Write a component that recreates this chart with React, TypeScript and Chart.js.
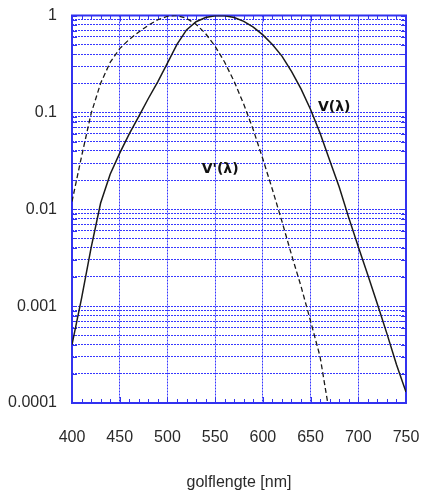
import React, { useEffect, useRef } from 'react';
import { Chart, registerables } from 'chart.js';

Chart.register(...registerables);

// Photopic V(λ), solid line
const photopicWavelengths = [400, 410, 420, 430, 440, 450, 460, 470, 480, 490, 500, 510, 520, 530, 540, 550, 555, 560, 570, 580, 590, 600, 610, 620, 630, 640, 650, 660, 670, 680, 690, 700, 710, 720, 730, 740, 750];
const photopicValues = [0.0004, 0.0012, 0.004, 0.0116, 0.023, 0.038, 0.06, 0.091, 0.139, 0.208, 0.323, 0.503, 0.71, 0.862, 0.954, 0.995, 1.0, 0.995, 0.952, 0.87, 0.757, 0.631, 0.503, 0.381, 0.265, 0.175, 0.107, 0.061, 0.032, 0.017, 0.0082, 0.0041, 0.0021, 0.00105, 0.00052, 0.00025, 0.00013];

// Scotopic V'(λ), dashed line
const scotopicWavelengths = [400, 410, 420, 430, 440, 450, 460, 470, 480, 490, 500, 507, 510, 520, 530, 540, 550, 560, 570, 580, 590, 600, 610, 620, 630, 640, 650, 660, 668];
const scotopicValues = [0.012, 0.035, 0.097, 0.2, 0.328, 0.455, 0.567, 0.676, 0.793, 0.904, 0.982, 1.0, 0.997, 0.935, 0.811, 0.65, 0.481, 0.329, 0.208, 0.121, 0.066, 0.033, 0.016, 0.0075, 0.0034, 0.0016, 0.0007, 0.0003, 0.0001];

const xTickValues = [400, 450, 500, 550, 600, 650, 700, 750];
const xMinorStep = 10;
const yDecades = [0.0001, 0.001, 0.01, 0.1, 1];
const yTickLabels = ['0.0001', '0.001', '0.01', '0.1', '1'];
const yMinorMultipliers = [2, 3, 4, 5, 6, 7, 8, 9];
const xAxisTitle = 'golflengte [nm]';

const curveLabels = ['V(λ)', "V'(λ)"];
const curveLabelWavelengths = [657.8, 536];
const curveLabelValues = [0.114, 0.0256];

const FONT = "'Liberation Sans', Arial, sans-serif";
const GRID_BLUE = 'rgb(55,55,255)';
const FRAME_BLUE = '#3232f0';
const TEXT = '#2a2a2a';

export default function App() {
  const ref = useRef<HTMLCanvasElement>(null);

  useEffect(() => {
    const canvas = ref.current;
    if (!canvas) return;

    const yGridValues: number[] = [];
    yDecades.forEach((d, i) => {
      yGridValues.push(d);
      if (i < yDecades.length - 1) yMinorMultipliers.forEach((m) => yGridValues.push(d * m));
    });
    yGridValues.sort((a, b) => a - b);

    const framePlugin = {
      id: 'frameTicks',
      beforeDatasetsDraw(chart: any) {
        const { ctx, chartArea: a, scales } = chart;
        const xs = scales.x;
        const ys = scales.y;
        ctx.save();
        ctx.setLineDash([]);
        ctx.strokeStyle = FRAME_BLUE;
        ctx.lineWidth = 1;
        ctx.beginPath();
        const xMin = xTickValues[0];
        const xMax = xTickValues[xTickValues.length - 1];
        for (let v = xMin; v <= xMax; v += xMinorStep) {
          const px = Math.round(xs.getPixelForValue(v)) + 0.5;
          const len = v % 50 === 0 ? 6 : 4;
          ctx.moveTo(px, a.bottom);
          ctx.lineTo(px, a.bottom - len);
          ctx.moveTo(px, a.top);
          ctx.lineTo(px, a.top + len);
        }
        yGridValues.forEach((v) => {
          const py = Math.round(ys.getPixelForValue(v)) + 0.5;
          ctx.moveTo(a.left, py);
          ctx.lineTo(a.left + 5, py);
          ctx.moveTo(a.right, py);
          ctx.lineTo(a.right - 5, py);
        });
        ctx.stroke();
        ctx.lineWidth = 2;
        ctx.strokeRect(a.left, a.top, a.right - a.left, a.bottom - a.top);
        ctx.restore();
      },
      afterDatasetsDraw(chart: any) {
        const { ctx, scales } = chart;
        ctx.save();
        ctx.fillStyle = '#111';
        ctx.font = "bold 14px 'DejaVu Sans', sans-serif";
        ctx.textAlign = 'left';
        ctx.textBaseline = 'middle';
        curveLabels.forEach((t, i) => {
          const px = scales.x.getPixelForValue(curveLabelWavelengths[i]);
          const py = scales.y.getPixelForValue(curveLabelValues[i]);
          ctx.fillText(t, px, py);
        });
        ctx.restore();
      },
    };

    const chart = new Chart(canvas, {
      type: 'line',
      data: {
        datasets: [
          {
            label: curveLabels[0],
            data: photopicWavelengths.map((x, i) => ({ x, y: photopicValues[i] })),
            borderColor: '#1a1a1a',
            borderWidth: 1.5,
            pointRadius: 0,
            tension: 0,
          },
          {
            label: curveLabels[1],
            data: scotopicWavelengths.map((x, i) => ({ x, y: scotopicValues[i] })),
            borderColor: '#1a1a1a',
            borderWidth: 1.3,
            borderDash: [5, 3],
            pointRadius: 0,
            tension: 0,
          },
        ],
      },
      options: {
        responsive: false,
        animation: false,
        layout: { padding: { top: 15.5, right: 15, left: 0, bottom: 0 } },
        plugins: { legend: { display: false }, tooltip: { enabled: false } },
        scales: {
          x: {
            type: 'linear',
            min: 400,
            max: 750,
            afterBuildTicks: (s: any) => {
              s.ticks = xTickValues.map((v) => ({ value: v }));
            },
            afterFit: (s: any) => {
              s.height = 89;
            },
            ticks: {
              autoSkip: false,
              maxRotation: 0,
              padding: 0,
              color: TEXT,
              font: { family: FONT, size: 16 },
              callback: (v: any) => String(v),
            },
            grid: {
              color: GRID_BLUE,
              lineWidth: 1,
              drawTicks: true,
              tickLength: 25,
              tickColor: 'rgba(0,0,0,0)',
            },
            border: { display: false, dash: [2, 1] },
            title: {
              display: true,
              text: xAxisTitle,
              color: TEXT,
              font: { family: FONT, size: 16 },
              padding: { top: 0, bottom: 0 },
            },
          },
          y: {
            type: 'logarithmic',
            min: 0.0001,
            max: 1,
            afterBuildTicks: (s: any) => {
              s.ticks = yGridValues.map((v) => ({ value: v }));
            },
            afterFit: (s: any) => {
              s.width = 72;
            },
            ticks: {
              autoSkip: false,
              padding: 0,
              color: TEXT,
              font: { family: FONT, size: 16 },
              callback: (v: any) => {
                const idx = yDecades.findIndex((d) => Math.abs(d - v) / d < 1e-6);
                return idx >= 0 ? yTickLabels[idx] : '';
              },
            },
            grid: {
              color: GRID_BLUE,
              lineWidth: 1,
              drawTicks: true,
              tickLength: 15,
              tickColor: 'rgba(0,0,0,0)',
            },
            border: { display: false, dash: [2, 1] },
          },
        },
      },
      plugins: [framePlugin],
    } as any);

    return () => chart.destroy();
  }, []);

  return (
    <div style={{ position: 'fixed', left: 0, top: 0, width: 421, height: 492, background: '#fff' }}>
      <canvas ref={ref} width={421} height={492} style={{ display: 'block' }} />
    </div>
  );
}
